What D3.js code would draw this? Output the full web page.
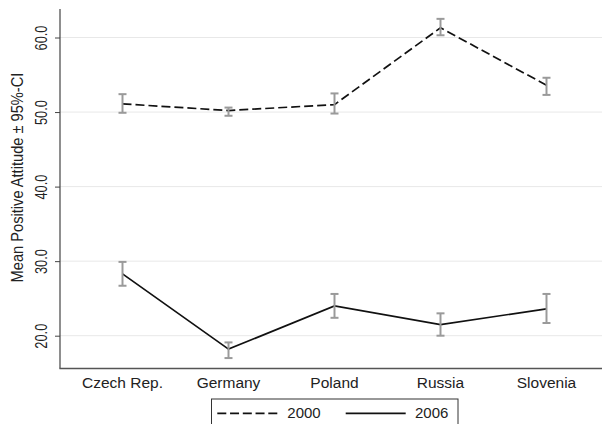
<!DOCTYPE html>
<html>
<head>
<meta charset="utf-8">
<script src="https://cdn.jsdelivr.net/npm/d3@7"></script>
<style>
  body { margin: 0; background: #fff; }
  svg { display: block; font-family: "Liberation Sans", Arial, sans-serif; }
</style>
</head>
<body>
<div id="chart"></div>
<script>
// data
var countries = ['Czech Rep.', 'Germany', 'Poland', 'Russia', 'Slovenia']
var mean2000 = [51.1, 50.2, 51.0, 61.3, 53.6]
var lo2000 = [49.9, 49.5, 49.8, 60.3, 52.3]
var hi2000 = [52.4, 50.6, 52.5, 62.5, 54.6]
var mean2006 = [28.3, 18.2, 24.0, 21.5, 23.6]
var lo2006 = [26.7, 17.0, 22.4, 20.0, 21.7]
var hi2006 = [29.9, 19.1, 25.6, 23.0, 25.6]
var yTicks = [20, 30, 40, 50, 60]
var years = ['2000', '2006']

var width = 602, height = 424
// "top" clashes with window.top, hence the m prefix
var mLeft = 60, mRight = 602, mTop = 9, mBottom = 368.5

var svg = d3.select('#chart').append('svg')
    .attr('width', width).attr('height', height)

var x = d3.scalePoint().domain(countries).range([122.5, 546.5])
var y = d3.scaleLinear().domain([20, 60]).range([335.7, 37.5])

// grid
svg.append('g').selectAll('line')
    .data(yTicks).enter().append('line')
    .attr('x1', mLeft).attr('x2', mRight)
    .attr('y1', d => y(d)).attr('y2', d => y(d))
    .attr('stroke', '#e8e8e8').attr('stroke-width', 1)

// y axis
var yAxis = svg.append('g')
    .attr('transform', 'translate(' + mLeft + ',0)')
    .call(d3.axisLeft(y).tickValues(yTicks).tickSize(5).tickFormat(d3.format('.1f')))
yAxis.select('.domain').remove()
yAxis.selectAll('.tick line').attr('stroke', '#444')
yAxis.selectAll('.tick text')
    .attr('transform', 'rotate(-90) scale(0.8,1)')
    .attr('x', 0).attr('y', -12.7)
    .attr('dy', 0)
    .attr('text-anchor', 'middle')
    .attr('font-size', 16).attr('fill', '#222')
    .attr('font-family', '"Liberation Sans", Arial, sans-serif')

svg.append('line')
    .attr('x1', mLeft).attr('x2', mLeft).attr('y1', mTop).attr('y2', mBottom)
    .attr('stroke', '#444').attr('stroke-width', 1.2)
svg.append('line')
    .attr('x1', mLeft - 0.6).attr('x2', mRight).attr('y1', mBottom).attr('y2', mBottom)
    .attr('stroke', '#555').attr('stroke-width', 1.6)

// x labels
svg.append('g').selectAll('text')
    .data(countries).enter().append('text')
    .attr('x', d => x(d)).attr('y', 388.3)
    .attr('text-anchor', 'middle').attr('font-size', 15.5).attr('fill', '#222')
    .text(d => d)

svg.append('text')
    .attr('transform', 'translate(23.3,177.5) rotate(-90) scale(0.915,1)')
    .attr('text-anchor', 'middle').attr('font-size', 16).attr('fill', '#222')
    .text('Mean Positive Attitude ± 95%-CI')

var line = d3.line().x((d, i) => x(countries[i])).y(d => y(d))

function series(mean, lo, hi, dash) {
    svg.append('path')
        .datum(mean)
        .attr('d', line)
        .attr('fill', 'none')
        .attr('stroke', '#111')
        .attr('stroke-width', 1.7)
        .attr('stroke-dasharray', dash)
    var g = svg.append('g').attr('stroke', '#9a9a9a').attr('stroke-width', 2)
    countries.forEach((c, i) => {
        var cx = x(c)
        g.append('line').attr('x1', cx).attr('x2', cx).attr('y1', y(lo[i])).attr('y2', y(hi[i]))
        g.append('line').attr('x1', cx - 4).attr('x2', cx + 4).attr('y1', y(lo[i])).attr('y2', y(lo[i]))
        g.append('line').attr('x1', cx - 4).attr('x2', cx + 4).attr('y1', y(hi[i])).attr('y2', y(hi[i]))
    })
}
series(mean2000, lo2000, hi2000, '9,4')
series(mean2006, lo2006, hi2006, null)

// legend
var legend = svg.append('g')
legend.append('rect')
    .attr('x', 211.5).attr('y', 399).attr('width', 246.5).attr('height', 40)
    .attr('fill', '#fff').attr('stroke', '#333').attr('stroke-width', 1)
legend.append('line')
    .attr('x1', 217.3).attr('x2', 277.3).attr('y1', 413.3).attr('y2', 413.3)
    .attr('stroke', '#111').attr('stroke-width', 1.7).attr('stroke-dasharray', '9,3.75')
legend.append('line')
    .attr('x1', 345.7).attr('x2', 405.7).attr('y1', 413.3).attr('y2', 413.3)
    .attr('stroke', '#111').attr('stroke-width', 1.7)
legend.append('text').attr('x', 287.3).attr('y', 418.3).attr('font-size', 15).attr('fill', '#222').text(years[0])
legend.append('text').attr('x', 415).attr('y', 418.3).attr('font-size', 15).attr('fill', '#222').text(years[1])
</script>
</body>
</html>
